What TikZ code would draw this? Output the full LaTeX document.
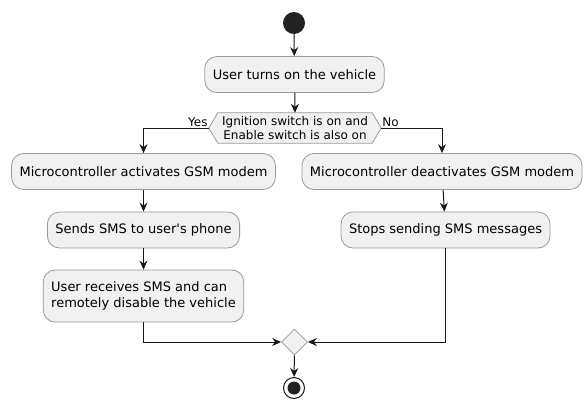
\documentclass[tikz,border=0pt]{standalone}
\usepackage{fontspec}
\setmainfont{DejaVu Sans}[Ligatures=TeXOff]
\usetikzlibrary{arrows.meta,shapes.geometric}
\definecolor{boxfill}{HTML}{F1F1F1}
\definecolor{boxline}{HTML}{9A9A9A}
\definecolor{ink}{HTML}{181818}
\begin{document}
\begin{tikzpicture}[x=1pt,y=-1pt,
action/.style={draw=boxline, fill=boxfill, rounded corners=12pt, line width=0.8pt, minimum height=36pt, inner xsep=8pt, font=\fontsize{13}{16}\selectfont},
flow/.style={draw=ink, line width=1pt, -{Stealth[length=9pt,width=8pt,inset=3pt]}},
guard/.style={font=\fontsize{12}{14}\selectfont, inner sep=1pt}]
\useasboundingbox (0,0) rectangle (585,399);
\fill [ink!95] (294,23) circle (11);
\coordinate (start) at (294,34);
\node [action] (turnon) at (294.5,74.5) {User turns on the vehicle};
\node [guard, align=center, inner sep=0pt, minimum width=154pt, minimum height=30pt] (check) at (295,128) {\phantom{Ignition switch is on and}};
\draw [boxline, fill=boxfill, line width=0.8pt] (check.north west) -- (check.north east) -- ([xshift=9pt]check.east) -- (check.south east) -- (check.south west) -- ([xshift=-9pt]check.west) -- cycle;
\node [guard, align=center, inner sep=0pt] at (check) {Ignition switch is on and\\Enable switch is also on};
\coordinate (yes) at ([xshift=-9pt]check.west);
\coordinate (no) at ([xshift=9pt]check.east);
\node [guard, anchor=south east] at (yes) {Yes};
\node [guard, anchor=south west] at (no) {No};
\node [action] (activate) at (143.5,171.5) {Microcontroller activates GSM modem};
\node [action] (sendsms) at (143.5,230) {Sends SMS to user's phone};
\node [action, align=left, minimum height=52pt] (receive) at (143.5,296) {User receives SMS and can\\remotely disable the vehicle};
\node [action] (deactivate) at (442,171.5) {Microcontroller deactivates GSM modem};
\node [action] (stopsms) at (445.5,230) {Stops sending SMS messages};
\node [diamond, draw=boxline, fill=boxfill, line width=0.8pt, inner sep=0pt, minimum width=26pt, minimum height=26pt] (merge) at (294.5,342) {};
\node [circle, draw=ink, line width=1pt, fill=white, minimum size=21pt, inner sep=0pt] (stop) at (294,388) {};
\fill [ink!95] (stop) circle (6.5);
\draw [flow] (start) -- (turnon);
\draw [flow] (turnon) -- (check.north);
\draw [flow] (yes) -| (activate.north);
\draw [flow] (no) -| (deactivate.north);
\draw [flow] (activate) -- (sendsms);
\draw [flow] (sendsms) -- (receive);
\draw [flow] (deactivate) -- (stopsms);
\draw [flow] (receive.south) |- (merge.west);
\draw [flow] (stopsms.south) |- (merge.east);
\draw [flow] (merge) -- (stop);
\end{tikzpicture}
\end{document}
